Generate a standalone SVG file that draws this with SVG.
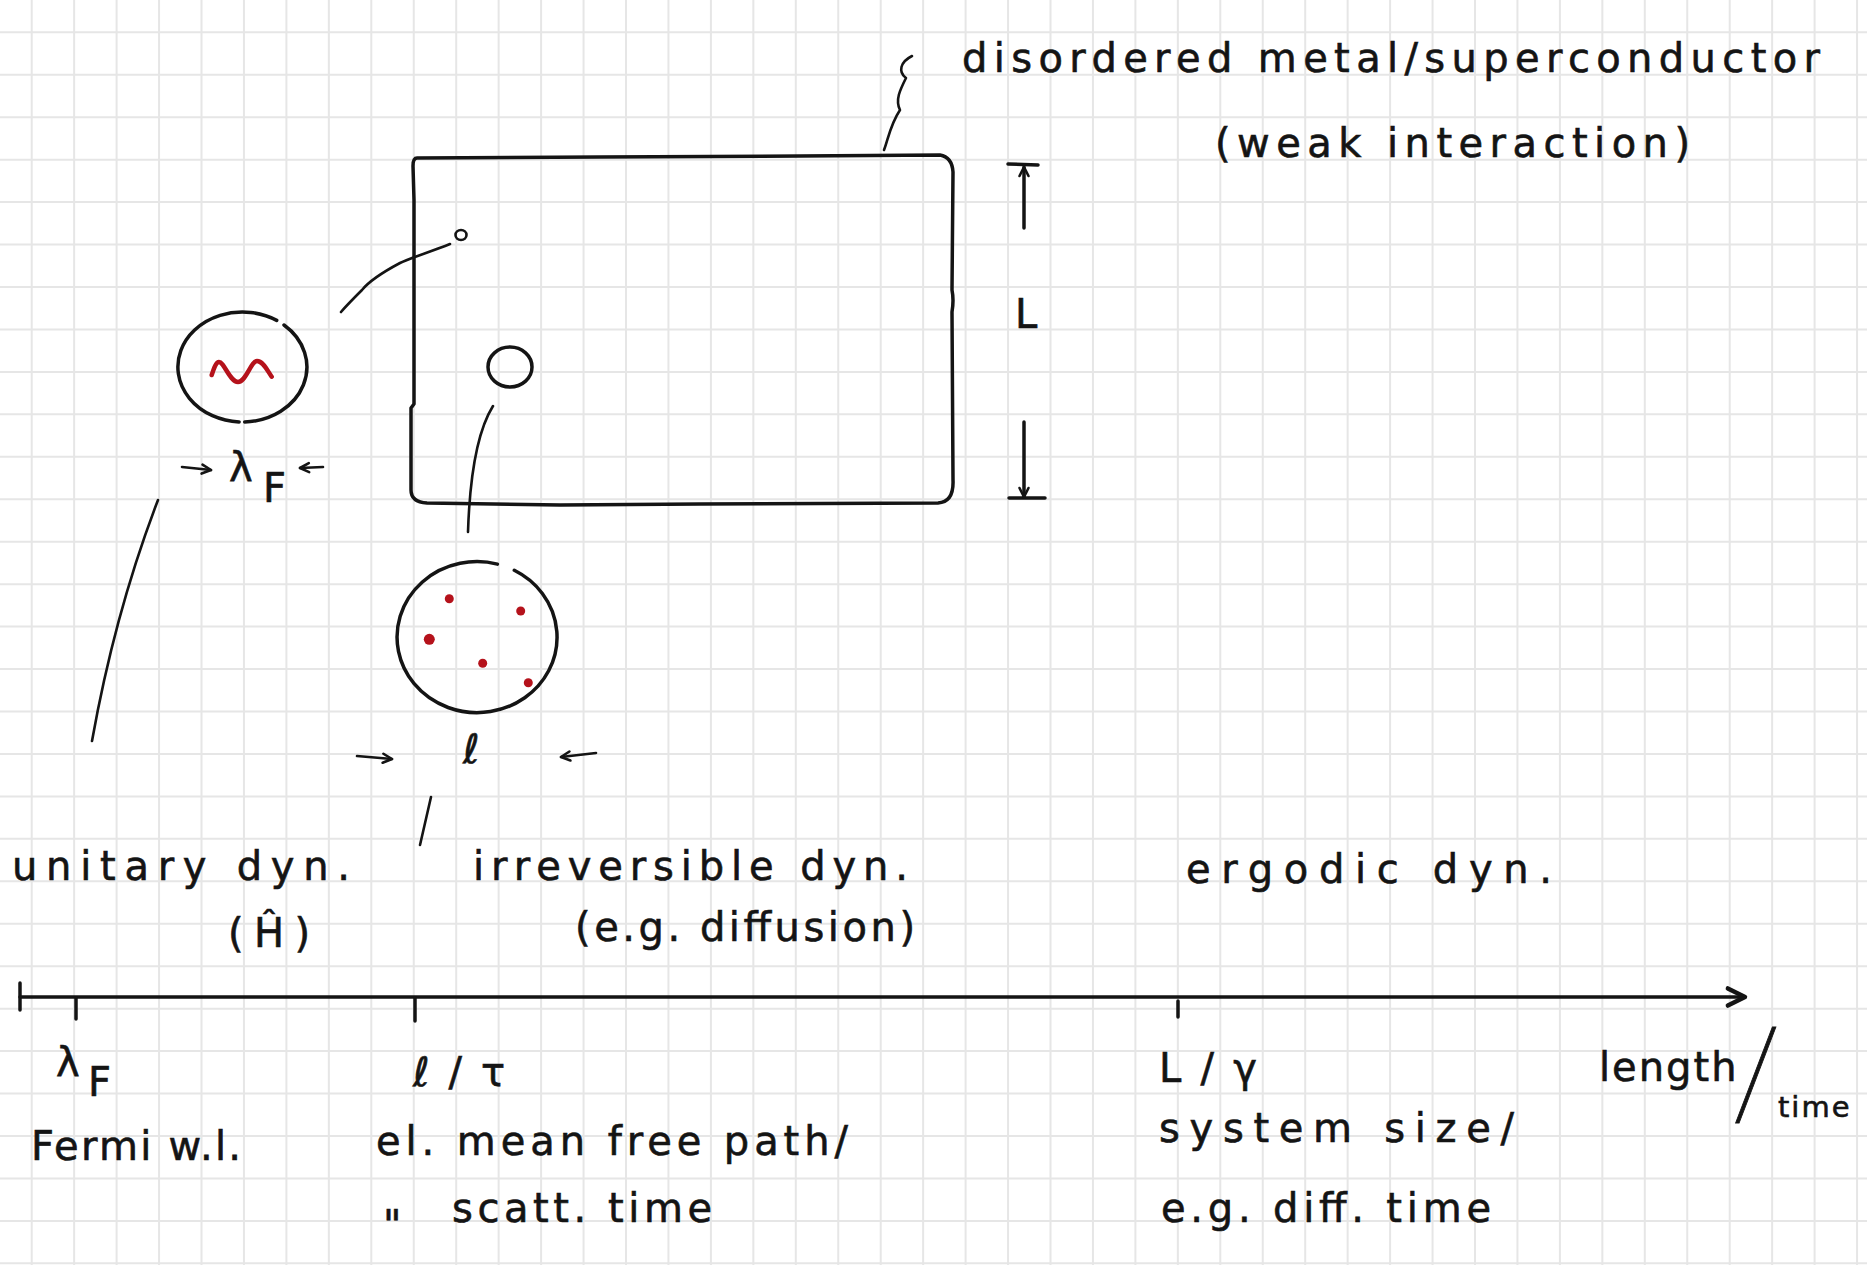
<svg xmlns="http://www.w3.org/2000/svg" width="1867" height="1265" viewBox="0 0 1867 1265">
<style>
.grid{stroke:#e6e6e6;stroke-width:2;fill:none}
.ink{stroke:#141414;stroke-width:3.5;fill:none;stroke-linecap:round;stroke-linejoin:round}
.thin{stroke:#141414;stroke-width:2.6;fill:none;stroke-linecap:round;stroke-linejoin:round}
.red{stroke:#b5121b;stroke-width:4.5;fill:none;stroke-linecap:round;stroke-linejoin:round}
.dot{fill:#b5121b}
.t{font-family:"DejaVu Sans","Liberation Sans",sans-serif;fill:#141414;stroke:#141414;stroke-width:0.6;font-size:40px}
.hair{font-family:Roboto,Lato,"Open Sans","DejaVu Sans",sans-serif;font-weight:100;stroke-width:0.8}
</style>
<defs>
<marker id="chev" markerUnits="userSpaceOnUse" markerWidth="24" markerHeight="24" refX="12" refY="6" orient="auto" viewBox="0 0 14 12">
<path d="M2 1 L12 6 L2 11" fill="none" stroke="#141414" stroke-width="2.6" stroke-linecap="round" stroke-linejoin="round"/>
</marker>
<marker id="chevs" markerUnits="userSpaceOnUse" markerWidth="14" markerHeight="14" refX="12" refY="6" orient="auto" viewBox="0 0 14 12">
<path d="M3 1.5 L12 6 L3 10.5" fill="none" stroke="#141414" stroke-width="2.6" stroke-linecap="round" stroke-linejoin="round"/>
</marker>
</defs>
<rect width="1867" height="1265" fill="#ffffff"/>
<path class="grid" d="M31.7 0V1265M74.15 0V1265M116.6 0V1265M159.05 0V1265M201.5 0V1265M243.95 0V1265M286.4 0V1265M328.85 0V1265M371.3 0V1265M413.75 0V1265M456.2 0V1265M498.65 0V1265M541.1 0V1265M583.55 0V1265M626 0V1265M668.45 0V1265M710.9 0V1265M753.35 0V1265M795.8 0V1265M838.25 0V1265M880.7 0V1265M923.15 0V1265M965.6 0V1265M1008.05 0V1265M1050.5 0V1265M1092.95 0V1265M1135.4 0V1265M1177.85 0V1265M1220.3 0V1265M1262.75 0V1265M1305.2 0V1265M1347.65 0V1265M1390.1 0V1265M1432.55 0V1265M1475 0V1265M1517.45 0V1265M1559.9 0V1265M1602.35 0V1265M1644.8 0V1265M1687.25 0V1265M1729.7 0V1265M1772.15 0V1265M1814.6 0V1265M1857.05 0V1265M0 32.3H1867M0 74.75H1867M0 117.2H1867M0 159.65H1867M0 202.1H1867M0 244.55H1867M0 287H1867M0 329.45H1867M0 371.9H1867M0 414.35H1867M0 456.8H1867M0 499.25H1867M0 541.7H1867M0 584.15H1867M0 626.6H1867M0 669.05H1867M0 711.5H1867M0 753.95H1867M0 796.4H1867M0 838.85H1867M0 881.3H1867M0 923.75H1867M0 966.2H1867M0 1008.65H1867M0 1051.1H1867M0 1093.55H1867M0 1136H1867M0 1178.45H1867M0 1220.9H1867M0 1263.35H1867"/>

<g id="sample">
<path class="ink" d="M417 158 L600 157 L800 156 L940 155 Q952 157 953 172 L952 290 Q954 300 952 312 L953 480 Q954 502 938 503 L700 504 L560 505 L427 503 Q411 502 411 490 L411 408 L414 404 L414 200 L413 166 Q413 158 417 158 Z"/>
</g>
<g id="small-grain"><ellipse class="thin" cx="461" cy="235" rx="5.5" ry="5"/></g>
<g id="grain"><ellipse class="ink" cx="510" cy="367" rx="22" ry="20"/></g>

<g id="fermi-zoom">
<path class="ink" d="M284 325 A64.5 55 0 0 1 244.7 422"/>
<path class="ink" d="M239.1 421.9 A64.5 55 0 1 1 276.7 320.4"/>
<path class="red" d="M211.7 375 C214 368 216 362 219 362 C224 362 230 382 238 382 C246 382 251 361 257 361 C263 361 267 370 271.7 376.7"/>
<text class="t" x="229" y="481" font-size="44">λ</text>
<text class="t" x="263" y="502" font-size="38">F</text>
</g>

<g id="mfp-zoom">
<path class="ink" d="M514.3 570.3 A80 75.5 0 1 1 497.4 564.1"/>
<circle class="dot" cx="449.3" cy="598.7" r="4.5"/>
<circle class="dot" cx="520.7" cy="611" r="4.5"/>
<circle class="dot" cx="429.3" cy="639.3" r="5.5"/>
<circle class="dot" cx="482.7" cy="663.3" r="4.5"/>
<circle class="dot" cx="528.3" cy="682.7" r="4.5"/>
<text class="t" x="463" y="763" font-size="46">ℓ</text>
</g>

<g id="title">
<text class="t" x="962" y="72" font-size="46" textLength="858" lengthAdjust="spacing">disordered metal/superconductor</text>
<text class="t" x="1215" y="157" font-size="42" textLength="475" lengthAdjust="spacing">(weak interaction)</text>
</g>

<g id="dim-L">
<path class="ink" d="M1008 164 L1038 165"/>
<path class="ink" d="M1045 498 L1009 498"/>
<text class="t" x="1015" y="328" font-size="40">L</text>
</g>

<g id="label-unitary">
<text class="t" x="12" y="880" font-size="42" textLength="338" lengthAdjust="spacing">unitary dyn.</text>
<text class="t" x="228" y="947" font-size="46" textLength="82" lengthAdjust="spacing">(Ĥ)</text>
</g>
<g id="label-irreversible">
<text class="t" x="473" y="880" font-size="42" textLength="435" lengthAdjust="spacing">irreversible dyn.</text>
<text class="t" x="575" y="941" font-size="42" textLength="340" lengthAdjust="spacing">(e.g. diffusion)</text>
</g>
<g id="label-ergodic">
<text class="t" x="1186" y="883" font-size="42" textLength="366" lengthAdjust="spacing">ergodic dyn.</text>
</g>

<g id="axis">
<path class="ink" d="M20 997 H1745" stroke-width="4.5" marker-end="url(#chev)"/>
<path class="ink" d="M20 983 V1010" stroke-width="6"/>
<path class="ink" d="M76 998 V1019" stroke-width="4.5"/>
<path class="ink" d="M415 998 V1021" stroke-width="3.5"/>
<path class="ink" d="M1178 1001 V1017" stroke-width="4"/>
</g>

<g id="tick-fermi">
<text class="t" x="56" y="1076" font-size="44">λ</text>
<text class="t" x="88" y="1096" font-size="38">F</text>
<text class="t" x="31" y="1160" font-size="40" textLength="210" lengthAdjust="spacing">Fermi w.l.</text>
</g>
<g id="tick-mfp">
<text class="t" x="413" y="1086" font-size="46" textLength="92" lengthAdjust="spacing">ℓ/τ</text>
<text class="t" x="376" y="1155" font-size="40" textLength="472" lengthAdjust="spacing">el. mean free path/</text>
<text class="t" x="383" y="1239" font-size="40">"</text>
<text class="t" x="452" y="1222" font-size="40" textLength="260" lengthAdjust="spacing">scatt. time</text>
</g>
<g id="tick-system">
<text class="t" x="1159" y="1082" font-size="44" textLength="98" lengthAdjust="spacing">L/γ</text>
<text class="t" x="1159" y="1142" font-size="40" textLength="355" lengthAdjust="spacing">system size/</text>
<text class="t" x="1161" y="1222" font-size="40" textLength="330" lengthAdjust="spacing">e.g. diff. time</text>
</g>
<g id="axis-label">
<text class="t" x="1599" y="1081" font-size="42"><tspan letter-spacing="2">length</tspan><tspan class="hair" x="1733" dy="34" font-size="124">/</tspan><tspan x="1778" dy="2" font-size="29" letter-spacing="2">time</tspan></text>
</g>

<g id="connectors">
<path class="thin" d="M450 244 C430 252 410 258 400 263 C385 271 370 280 362 290 C352 300 346 306 341 312"/>
<path class="thin" d="M158 500 C135 560 110 640 92 741"/>
<path class="thin" d="M493 406 C478 430 470 470 468 532"/>
<path class="thin" d="M431 797 L420 845"/>
<path class="thin" d="M912 56 C900 62 898 72 906 78 C900 90 895 100 900 110 C890 125 888 140 884 150"/>
<path class="ink" d="M1024 228 V167" marker-end="url(#chevs)"/>
<path class="ink" d="M1024 422 V497" marker-end="url(#chevs)"/>
<path class="thin" d="M182 467 L211 470" marker-end="url(#chevs)"/>
<path class="thin" d="M323 467 L300 468" marker-end="url(#chevs)"/>
<path class="thin" d="M357 756 L392 759" marker-end="url(#chevs)"/>
<path class="thin" d="M596 753 L561 757" marker-end="url(#chevs)"/>
</g>
</svg>
